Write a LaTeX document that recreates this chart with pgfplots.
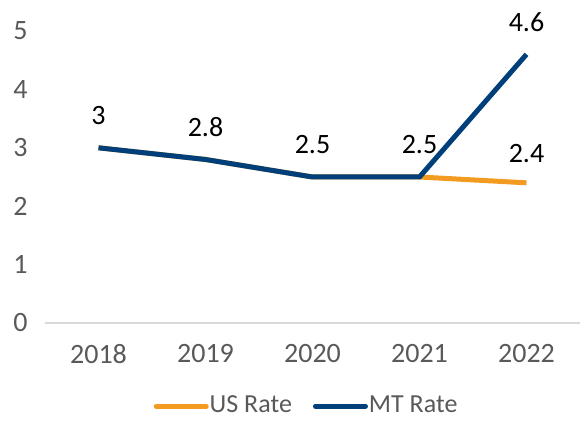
\documentclass[border=0pt]{standalone}
\usepackage{pgfplots}
\pgfplotsset{compat=1.18}
\usepackage{fontspec}
\setmainfont{Carlito}
\definecolor{navy}{HTML}{003F7A}
\definecolor{orng}{HTML}{F39A21}
\definecolor{tickgray}{HTML}{595959}
\definecolor{axgray}{HTML}{D9D9D9}
\begin{document}
\fontsize{28}{32}\selectfont
\begin{tikzpicture}
\useasboundingbox (0,0) rectangle (580pt,420pt);
\begin{axis}[
  at={(45pt,97pt)}, anchor=south west,
  scale only axis, width=535pt, height=292pt,
  xmin=-0.5, xmax=4.5, ymin=0, ymax=5,
  xtick={0,1,2,3,4}, xticklabels={2018,2019,2020,2021,2022},
  ytick={0,1,2,3,4,5},
  axis line style={draw=none},
  axis x line*=bottom, axis y line*=left,
  major tick length=0pt,
  tick label style={text=tickgray, font=\fontsize{28}{32}\selectfont},
  /pgf/number format/assume math mode=true,
  xticklabel style={yshift=-12pt},
  yticklabel style={xshift=-8pt},
  clip=false,
  legend columns=2,
  legend style={at={(0.488,-0.285)}, anchor=center, draw=none, fill=none, inner sep=0pt,
    font=\fontsize{26}{28}\selectfont, text=tickgray,
    nodes={inner sep=1pt},
    /tikz/every even column/.append style={column sep=20pt}},
  legend image code/.code={\draw[#1, line cap=round] (0pt,0pt) -- (50pt,0pt);},
  nodes near coords,
  every node near coord/.append style={text=black, font=\fontsize{28}{32}\selectfont, yshift=11pt},
  point meta=explicit symbolic,
]
\draw[axgray, line width=1.2pt] (axis cs:-0.5,0) -- (axis cs:4.5,0);
\addplot[orng, line width=5pt, line join=round, nodes near coords={}, mark=none] coordinates {(0,3) (1,2.8) (2,2.5) (3,2.5) (4,2.4)};
\addlegendentry{US Rate}
\addplot[navy, line width=5pt, line join=round, mark=none] coordinates {(0,3)[3] (1,2.8)[2.8] (2,2.5)[2.5] (3,2.5)[2.5] (4,4.6)[4.6]};
\addlegendentry{MT Rate}
\node[text=black, font=\fontsize{28}{32}\selectfont, anchor=south, yshift=11pt] at (axis cs:4,2.4) {2.4};
\end{axis}
\end{tikzpicture}
\end{document}
